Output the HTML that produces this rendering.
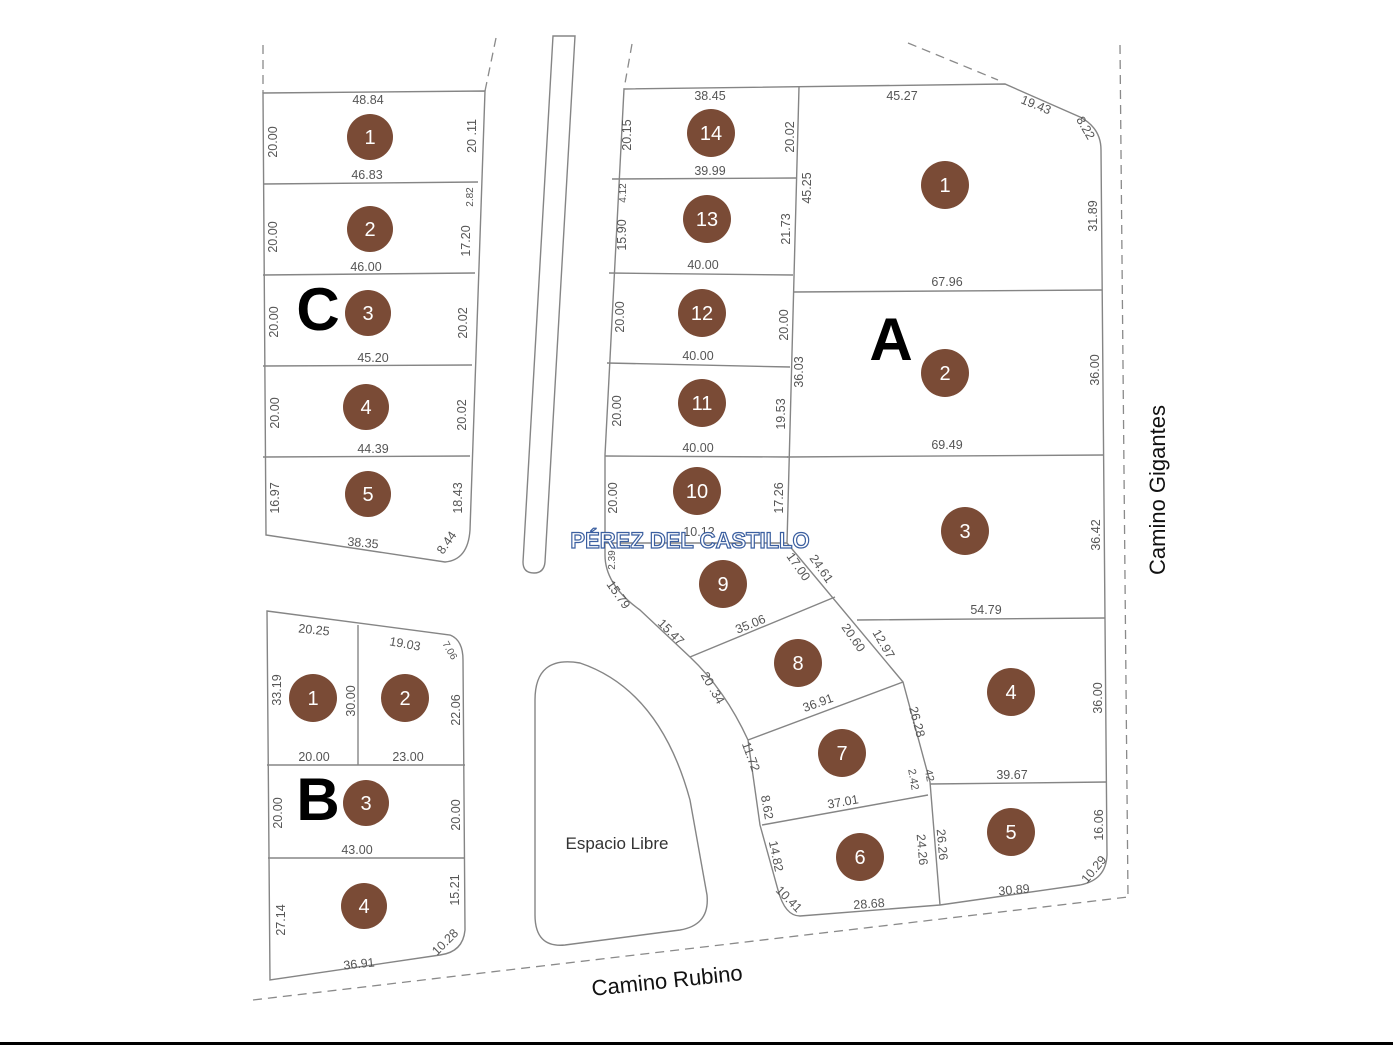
<!DOCTYPE html>
<html><head><meta charset="utf-8"><style>
html,body{margin:0;padding:0;background:#fff;}
svg{display:block;}
.l{fill:none;stroke:#858585;stroke-width:1.4;}
.d{fill:none;stroke:#8a8a8a;stroke-width:1.3;stroke-dasharray:9 6;}
.t{font-family:"Liberation Sans",sans-serif;font-size:12.5px;fill:#555;text-anchor:middle;}
.c{fill:#7a4b36;}
.n{font-family:"Liberation Sans",sans-serif;font-size:20px;fill:#fff;text-anchor:middle;}
.big{font-family:"Liberation Sans",sans-serif;font-size:60px;font-weight:bold;fill:#000;text-anchor:middle;}
</style></head><body>
<svg width="1393" height="1045" viewBox="0 0 1393 1045" xmlns="http://www.w3.org/2000/svg">
<path class="d" d="M263,45 L263,93"/>
<path class="d" d="M496,38 L485,91"/>
<path class="d" d="M632,44 L624,89"/>
<path class="d" d="M908,43 L998,80"/>
<path class="d" d="M1120,45 L1128,897"/>
<path class="d" d="M253,1000 L1128,897"/>
<path class="l" d="M263,93 L485,91 L470,530 Q468,560 445,562 L266,535 Z"/>
<path class="l" d="M263,184 L478,182 M263,275 L475,273 M263,366 L472,365 M263,457 L470,456"/>
<path class="l" d="M553,36 L575,36 L545,562 Q544,573 534,573 Q523,573 523,562 Z"/>
<path class="l" d="M624,89 L1005,84 L1080,117 Q1101,128 1101,150 L1107,855 Q1106,880 1080,885 L940,905 L800,916 Q785,916 778,890 L760,825 L748,740 Q725,690 690,657 L640,610 Q605,585 605,555 L605,455 Z"/>
<path class="l" d="M799,87 L787,543 L903,682 L930,782 L940,905"/>
<path class="l" d="M612,179 L797,178 M609,273 L793,275 M607,363 L790,367 M605,456 L788,457 M605,543 L787,543"/>
<path class="l" d="M793,292 L1102,290 M787,457 L1104,455 M857,620 L1105,618 M930,784 L1107,782"/>
<path class="l" d="M690,657 L835,597 M748,740 L903,682 M762,825 L928,795"/>
<path class="l" d="M535,700 Q535,655 580,663 Q660,690 690,800 L707,895 Q710,925 680,930 L565,945 Q535,948 535,915 Z"/>
<text x="617" y="849" style="font-family:'Liberation Sans',sans-serif;font-size:17px;fill:#333;text-anchor:middle">Espacio Libre</text>
<path class="l" d="M267,611 L450,635 Q463,640 463,660 L465,930 Q463,952 440,955 L270,980 Z"/>
<path class="l" d="M267,765 L465,765 M268,858 L465,858 M358,625 L358,765"/>
<g>
<circle class="c" cx="370" cy="137" r="23"/><text class="n" x="370" y="144">1</text>
<circle class="c" cx="370" cy="229" r="23"/><text class="n" x="370" y="236">2</text>
<circle class="c" cx="368" cy="313" r="23"/><text class="n" x="368" y="320">3</text>
<circle class="c" cx="366" cy="407" r="23"/><text class="n" x="366" y="414">4</text>
<circle class="c" cx="368" cy="494" r="23"/><text class="n" x="368" y="501">5</text>
<circle class="c" cx="313" cy="698" r="24"/><text class="n" x="313" y="705">1</text>
<circle class="c" cx="405" cy="698" r="24"/><text class="n" x="405" y="705">2</text>
<circle class="c" cx="366" cy="803" r="23"/><text class="n" x="366" y="810">3</text>
<circle class="c" cx="364" cy="906" r="23"/><text class="n" x="364" y="913">4</text>
<circle class="c" cx="711" cy="133" r="24"/><text class="n" x="711" y="140">14</text>
<circle class="c" cx="707" cy="219" r="24"/><text class="n" x="707" y="226">13</text>
<circle class="c" cx="702" cy="313" r="24"/><text class="n" x="702" y="320">12</text>
<circle class="c" cx="702" cy="403" r="24"/><text class="n" x="702" y="410">11</text>
<circle class="c" cx="697" cy="491" r="24"/><text class="n" x="697" y="498">10</text>
<circle class="c" cx="723" cy="584" r="24"/><text class="n" x="723" y="591">9</text>
<circle class="c" cx="798" cy="663" r="24"/><text class="n" x="798" y="670">8</text>
<circle class="c" cx="842" cy="753" r="24"/><text class="n" x="842" y="760">7</text>
<circle class="c" cx="860" cy="857" r="24"/><text class="n" x="860" y="864">6</text>
<circle class="c" cx="945" cy="185" r="24"/><text class="n" x="945" y="192">1</text>
<circle class="c" cx="945" cy="373" r="24"/><text class="n" x="945" y="380">2</text>
<circle class="c" cx="965" cy="531" r="24"/><text class="n" x="965" y="538">3</text>
<circle class="c" cx="1011" cy="692" r="24"/><text class="n" x="1011" y="699">4</text>
<circle class="c" cx="1011" cy="832" r="24"/><text class="n" x="1011" y="839">5</text>
</g>
<text class="big" x="318" y="330">C</text>
<text class="big" x="891" y="360">A</text>
<text class="big" x="318" y="820">B</text>
<g class="t">
<text x="368" y="104">48.84</text><text x="367" y="179">46.83</text><text x="366" y="271">46.00</text><text x="373" y="362">45.20</text><text x="373" y="453">44.39</text><text x="363" y="547" transform="rotate(5 363 543)">38.35</text>
<text transform="translate(277,142) rotate(-90)">20.00</text><text transform="translate(277,237) rotate(-90)">20.00</text><text transform="translate(278,322) rotate(-90)">20.00</text><text transform="translate(279,413) rotate(-90)">20.00</text><text transform="translate(279,498) rotate(-90)">16.97</text>
<text transform="translate(476,136) rotate(-90)">20 .11</text><text transform="translate(473,197) rotate(-90)" style="font-size:10px">2.82</text><text transform="translate(470,241) rotate(-90)">17.20</text><text transform="translate(467,323) rotate(-90)">20.02</text><text transform="translate(466,415) rotate(-90)">20.02</text><text transform="translate(462,498) rotate(-90)">18.43</text><text transform="translate(450,545) rotate(-55)">8.44</text>
<text x="314" y="634" transform="rotate(6 314 630)">20.25</text><text x="405" y="648" transform="rotate(10 405 644)">19.03</text><text transform="translate(447,652) rotate(60)" style="font-size:10px">7.06</text>
<text transform="translate(281,690) rotate(-90)">33.19</text><text transform="translate(355,701) rotate(-90)">30.00</text><text transform="translate(460,710) rotate(-90)">22.06</text>
<text x="314" y="761">20.00</text><text x="408" y="761">23.00</text>
<text transform="translate(282,813) rotate(-90)">20.00</text><text transform="translate(460,815) rotate(-90)">20.00</text><text x="357" y="854">43.00</text>
<text transform="translate(285,920) rotate(-90)">27.14</text><text transform="translate(459,890) rotate(-90)">15.21</text><text transform="translate(448,945) rotate(-45)">10.28</text><text x="359" y="968" transform="rotate(-6 359 964)">36.91</text>
<text x="710" y="100">38.45</text><text x="710" y="175">39.99</text><text x="703" y="269">40.00</text><text x="698" y="360">40.00</text><text x="698" y="452">40.00</text><text x="699" y="536">10.12</text>
<text transform="translate(631,135) rotate(-90)">20.15</text><text transform="translate(626,193) rotate(-90)" style="font-size:10px">4.12</text><text transform="translate(626,235) rotate(-90)">15.90</text><text transform="translate(624,317) rotate(-90)">20.00</text><text transform="translate(621,411) rotate(-90)">20.00</text><text transform="translate(617,498) rotate(-90)">20.00</text><text transform="translate(615,560) rotate(-90)" style="font-size:10px">2.39</text>
<text transform="translate(794,137) rotate(-90)">20.02</text><text transform="translate(811,188) rotate(-90)">45.25</text><text transform="translate(790,229) rotate(-90)">21.73</text><text transform="translate(788,325) rotate(-90)">20.00</text><text transform="translate(803,372) rotate(-90)">36.03</text><text transform="translate(785,414) rotate(-90)">19.53</text><text transform="translate(783,498) rotate(-90)">17.26</text>
<text transform="translate(615,597) rotate(55)">15.79</text><text transform="translate(668,635) rotate(45)">15.47</text><text transform="translate(752,628) rotate(-22)">35.06</text>
<text transform="translate(795,569) rotate(55)">17.00</text><text transform="translate(818,571) rotate(55)">24.61</text><text transform="translate(850,640) rotate(55)">20.60</text><text transform="translate(880,646) rotate(60)">12.97</text>
<text transform="translate(709,690) rotate(60)">20 .34</text><text x="818" y="707" transform="rotate(-20 818 703)">36.91</text>
<text transform="translate(913,723) rotate(75)">26.28</text><text transform="translate(910,780) rotate(80)" style="font-size:11px">2.42</text><text transform="translate(926,776) rotate(80)" style="font-size:11px">42</text>
<text transform="translate(747,758) rotate(70)">11.72</text><text transform="translate(763,808) rotate(80)">8.62</text><text x="843" y="806" transform="rotate(-10 843 802)">37.01</text>
<text transform="translate(772,857) rotate(78)">14.82</text><text transform="translate(786,902) rotate(45)">10.41</text><text x="869" y="908" transform="rotate(-4 869 904)">28.68</text>
<text transform="translate(918,850) rotate(85)">24.26</text><text transform="translate(938,845) rotate(85)">26.26</text>
<text x="902" y="100">45.27</text><text x="1036" y="109" transform="rotate(22 1036 105)">19.43</text><text transform="translate(1082,130) rotate(60)">8.22</text>
<text transform="translate(1097,216) rotate(-90)">31.89</text><text x="947" y="286">67.96</text><text transform="translate(1099,370) rotate(-90)">36.00</text>
<text x="947" y="449">69.49</text><text transform="translate(1100,535) rotate(-90)">36.42</text><text x="986" y="614">54.79</text>
<text transform="translate(1102,698) rotate(-90)">36.00</text><text x="1012" y="779">39.67</text><text transform="translate(1103,825) rotate(-90)">16.06</text><text transform="translate(1097,872) rotate(-50)">10.29</text><text x="1014" y="894" transform="rotate(-5 1014 890)">30.89</text>
</g>
<text transform="translate(1165,490) rotate(-90)" style="font-family:'Liberation Sans',sans-serif;font-size:22px;fill:#111;text-anchor:middle">Camino Gigantes</text>
<text x="667" y="988" transform="rotate(-6 667 980)" style="font-family:'Liberation Sans',sans-serif;font-size:22px;fill:#111;text-anchor:middle">Camino Rubino</text>
<text x="690" y="548" style="font-family:'Liberation Sans',sans-serif;font-size:22px;font-weight:bold;fill:#fff;stroke:#3b5fa0;stroke-width:1.2;text-anchor:middle">PÉREZ DEL CASTILLO</text>
<rect x="0" y="1042" width="1393" height="3" fill="#000"/>
</svg>
</body></html>
